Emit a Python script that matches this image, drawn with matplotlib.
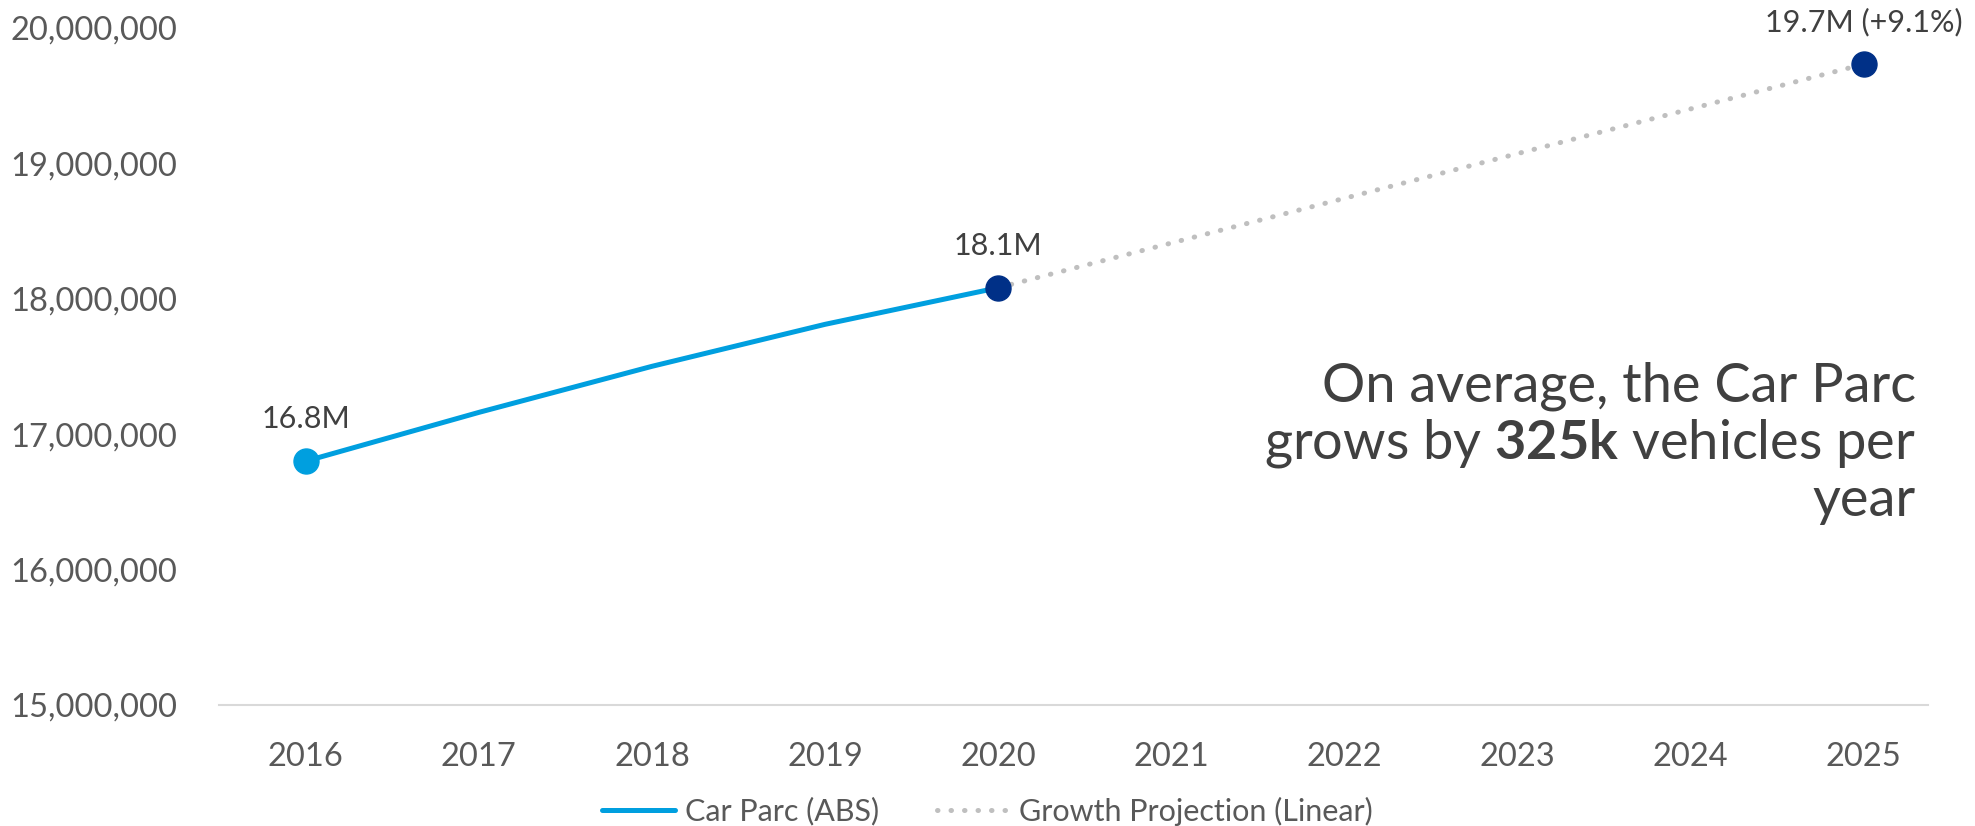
import matplotlib
matplotlib.use("Agg")
import matplotlib.pyplot as plt
from matplotlib.ticker import FuncFormatter

# data
years = [2016, 2017, 2018, 2019, 2020, 2021, 2022, 2023, 2024, 2025]
actual_years = [2016, 2017, 2018, 2019, 2020]
actual_vals = [16800000, 17160000, 17500000, 17810000, 18080000]
proj_years = [2020, 2021, 2022, 2023, 2024, 2025]
proj_vals = [18080000, 18410000, 18740000, 19070000, 19400000, 19730000]
labels = {2016: "16.8M", 2020: "18.1M", 2025: "19.7M (+9.1%)"}
yticks = [15000000, 16000000, 17000000, 18000000, 19000000, 20000000]

BLUE = "#009FDF"
NAVY = "#003087"
GREY = "#BFBFBF"
TXT = "#595959"

plt.rcParams['font.family'] = ['Lato', 'DejaVu Sans']
plt.rcParams['mathtext.fontset'] = 'custom'
plt.rcParams['mathtext.bf'] = 'Lato:bold'
plt.rcParams['mathtext.rm'] = 'Lato'

fig = plt.figure(figsize=(19.75, 8.26), dpi=100)
ax = fig.add_axes([0.111, 0.1465, 0.865, 0.82])

ax.plot(proj_years, proj_vals, color=GREY, lw=3.6, linestyle=(0, (0.1, 2.6)),
        dash_capstyle='round', label='Growth Projection (Linear)', zorder=2)
ax.plot(actual_years, actual_vals, color=BLUE, lw=3.6, solid_capstyle='round',
        label='Car Parc (ABS)', zorder=3)

# end point markers
ax.plot(actual_years[0], actual_vals[0], 'o', ms=18, color=BLUE, zorder=4)
ax.plot(actual_years[-1], actual_vals[-1], 'o', ms=18, color=NAVY, zorder=4)
ax.plot(proj_years[-1], proj_vals[-1], 'o', ms=18, color=NAVY, zorder=4)

for yr, txt in labels.items():
    if yr in actual_years:
        v = actual_vals[actual_years.index(yr)]
    else:
        v = proj_vals[proj_years.index(yr)]
    ax.annotate(txt, (yr, v), xytext=(0, 20), textcoords='offset points',
                ha='center', va='bottom', fontsize=22, color='#404040',
                annotation_clip=False)

ax.set_xlim(2015.5, 2025.37)
ax.set_ylim(15000000, 20000000)
ax.set_xticks(years)
ax.set_yticks(yticks)
ax.yaxis.set_major_formatter(FuncFormatter(lambda v, p: '{:,.0f}'.format(v)))
ax.tick_params(axis='both', length=0, labelsize=23.5, labelcolor=TXT)
ax.tick_params(axis='x', pad=27)
ax.tick_params(axis='y', pad=30)

for s in ['top', 'right', 'left']:
    ax.spines[s].set_visible(False)
ax.spines['bottom'].set_color('#D9D9D9')
ax.spines['bottom'].set_linewidth(1.5)

ax.text(0.993, 0.387,
        "On average, the Car Parc\ngrows by $\\mathbf{325k}$ vehicles per\nyear",
        transform=ax.transAxes, ha='right', va='center', fontsize=39,
        color='#404040', linespacing=1.15)

h, l = ax.get_legend_handles_labels()
leg = fig.legend(h[::-1], l[::-1], loc='center', bbox_to_anchor=(0.5, 0.018),
                 ncol=2, frameon=False, fontsize=22, handlelength=2.4,
                 handletextpad=0.3, columnspacing=1.9)
for t in leg.get_texts():
    t.set_color(TXT)

fig.savefig("out.png", dpi=100)
